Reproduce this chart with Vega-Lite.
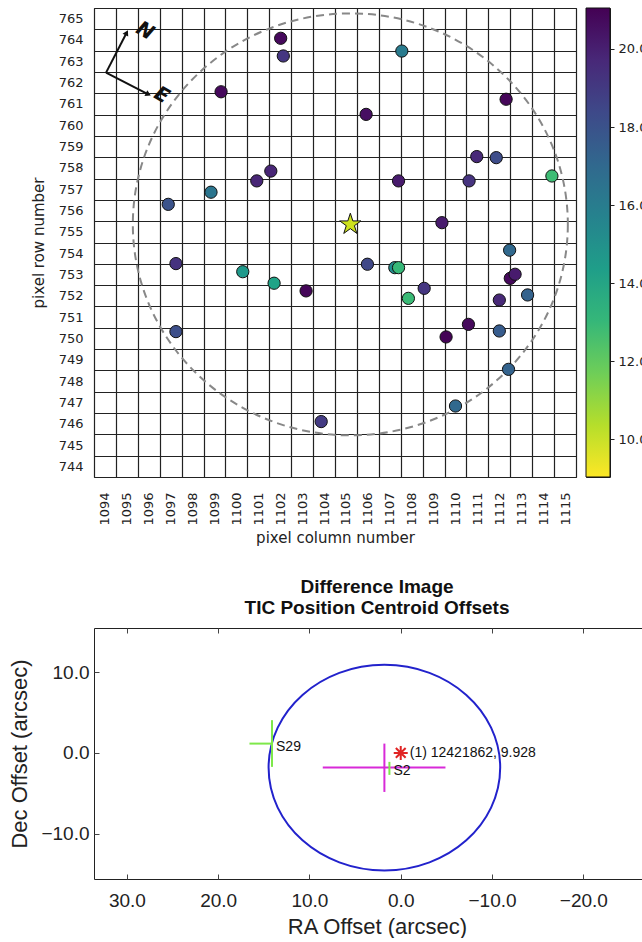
{
  "$schema": "https://vega.github.io/schema/vega-lite/v6.json",
  "padding": {"left": 8, "top": 7, "right": 0, "bottom": 0},
  "spacing": 31,
  "config": {
    "view": {"stroke": "#222", "strokeWidth": 1},
    "font": "DejaVu Sans"
  },
  "datasets": {
    "stars": [
      {"col": 1102.02, "row": 764.08, "mag": 20.8},
      {"col": 1102.14, "row": 763.25, "mag": 19.2},
      {"col": 1099.3, "row": 761.57, "mag": 20.8},
      {"col": 1101.57, "row": 757.85, "mag": 19.8},
      {"col": 1100.93, "row": 757.39, "mag": 19.8},
      {"col": 1098.84, "row": 756.86, "mag": 16.4},
      {"col": 1096.89, "row": 756.29, "mag": 18.0},
      {"col": 1097.24, "row": 753.51, "mag": 19.3},
      {"col": 1100.29, "row": 753.13, "mag": 14.6},
      {"col": 1101.72, "row": 752.59, "mag": 14.1},
      {"col": 1103.18, "row": 752.23, "mag": 20.9},
      {"col": 1097.24, "row": 750.32, "mag": 18.2},
      {"col": 1103.87, "row": 746.1, "mag": 19.0},
      {"col": 1107.55, "row": 763.48, "mag": 16.1},
      {"col": 1112.31, "row": 761.22, "mag": 20.9},
      {"col": 1105.92, "row": 760.51, "mag": 20.6},
      {"col": 1110.97, "row": 758.53, "mag": 19.7},
      {"col": 1111.86, "row": 758.48, "mag": 18.3},
      {"col": 1114.4, "row": 757.62, "mag": 12.8},
      {"col": 1107.4, "row": 757.39, "mag": 20.2},
      {"col": 1110.62, "row": 757.39, "mag": 19.3},
      {"col": 1109.38, "row": 755.43, "mag": 20.2},
      {"col": 1112.47, "row": 754.14, "mag": 17.0},
      {"col": 1105.98, "row": 753.48, "mag": 18.5},
      {"col": 1107.23, "row": 753.32, "mag": 15.2},
      {"col": 1107.4, "row": 753.32, "mag": 13.0},
      {"col": 1112.5, "row": 752.82, "mag": 20.8},
      {"col": 1112.72, "row": 753.01, "mag": 20.2},
      {"col": 1108.57, "row": 752.35, "mag": 19.2},
      {"col": 1107.85, "row": 751.88, "mag": 12.9},
      {"col": 1112.0, "row": 751.8, "mag": 19.7},
      {"col": 1113.29, "row": 752.04, "mag": 17.3},
      {"col": 1110.59, "row": 750.66, "mag": 20.8},
      {"col": 1109.57, "row": 750.07, "mag": 21.0},
      {"col": 1112.0, "row": 750.35, "mag": 17.6},
      {"col": 1112.42, "row": 748.55, "mag": 17.3},
      {"col": 1110.0, "row": 746.83, "mag": 17.0}
    ],
    "target": [{"col": 1105.2, "row": 755.35, "mag": 9.928}],
    "cbar": [{"lo": 9.03, "hi": 21.05}],
    "centroid": [{"ra": 1.79, "dec": -1.82, "ra_lo": 8.54, "ra_hi": -4.9, "dec_lo": -4.83, "dec_hi": 1.15}],
    "offsets": [
      {"label": "S29", "ra": 14.1, "dec": 1.15, "ra_lo": 16.57, "ra_hi": 14.1, "dec_lo": -1.73, "dec_hi": 4.05},
      {"label": "S2", "ra": 1.24, "dec": -1.9, "ra_lo": 1.24, "ra_hi": 1.24, "dec_lo": -2.72, "dec_hi": -1.11}
    ],
    "tic": [{"ra": 0, "dec": 0, "label": "(1) 12421862, 9.928"}]
  },
  "vconcat": [
    {
      "spacing": 8,
      "hconcat": [
        {
          "width": 482,
          "height": 469,
          "resolve": {"axis": {"x": "independent", "y": "independent"}},
          "layer": [
            {
              "data": {"name": "target"},
              "mark": {"type": "point", "opacity": 0},
              "encoding": {
                "x": {
                  "field": "col", "type": "quantitative",
                  "scale": {"domain": [1093.5, 1115.5], "nice": false, "zero": false},
                  "axis": {
                    "orient": "top", "title": null, "labels": false, "ticks": false, "domain": false, "tickCount": 100,
                    "grid": true, "gridColor": "#222", "gridWidth": 1.2, "gridOpacity": 1,
                    "values": [1093.5, 1094.5, 1095.5, 1096.5, 1097.5, 1098.5, 1099.5, 1100.5, 1101.5, 1102.5, 1103.5, 1104.5, 1105.5, 1106.5, 1107.5, 1108.5, 1109.5, 1110.5, 1111.5, 1112.5, 1113.5, 1114.5, 1115.5]
                  }
                },
                "y": {
                  "field": "row", "type": "quantitative",
                  "scale": {"domain": [743.5, 765.5], "nice": false, "zero": false},
                  "axis": {
                    "orient": "right", "title": null, "labels": false, "ticks": false, "domain": false, "tickCount": 100,
                    "grid": true, "gridColor": "#222", "gridWidth": 1.2, "gridOpacity": 1,
                    "values": [743.5, 744.5, 745.5, 746.5, 747.5, 748.5, 749.5, 750.5, 751.5, 752.5, 753.5, 754.5, 755.5, 756.5, 757.5, 758.5, 759.5, 760.5, 761.5, 762.5, 763.5, 764.5, 765.5]
                  }
                }
              }
            },
            {
              "data": {"name": "target"},
              "mark": {"type": "point", "filled": false, "stroke": "#888", "strokeWidth": 2, "strokeDash": [8, 5], "size": 189225, "opacity": 1, "shape": "M1,0C1,0.5357,0.5523,0.97,0,0.97C-0.5523,0.97,-1,0.5357,-1,0C-1,-0.5357,-0.5523,-0.97,0,-0.97C0.5523,-0.97,1,-0.5357,1,0Z"},
              "encoding": {
                "x": {"field": "col", "type": "quantitative", "axis": null},
                "y": {"field": "row", "type": "quantitative", "axis": null}
              }
            },
            {
              "data": {"name": "stars"},
              "mark": {"type": "circle", "size": 150, "stroke": "#111", "strokeWidth": 1, "opacity": 1},
              "encoding": {
                "x": {
                  "field": "col", "type": "quantitative",
                  "axis": {
                    "title": "pixel column number",
                    "values": [1094, 1095, 1096, 1097, 1098, 1099, 1100, 1101, 1102, 1103, 1104, 1105, 1106, 1107, 1108, 1109, 1110, 1111, 1112, 1113, 1114, 1115],
                    "tickCount": 100,
                    "format": "d",
                    "labelAngle": -90,
                    "labelOverlap": false,
                    "ticks": false,
                    "domain": false,
                    "grid": false,
                    "labelFont": "DejaVu Sans",
                    "labelFontSize": 13,
                    "labelColor": "#222",
                    "labelPadding": 15,
                    "titleFont": "DejaVu Sans",
                    "titleFontSize": 15,
                    "titleFontWeight": "normal",
                    "titleColor": "#222",
                    "titlePadding": 5
                  }
                },
                "y": {
                  "field": "row", "type": "quantitative",
                  "axis": {
                    "title": "pixel row number",
                    "values": [744, 745, 746, 747, 748, 749, 750, 751, 752, 753, 754, 755, 756, 757, 758, 759, 760, 761, 762, 763, 764, 765],
                    "tickCount": 100,
                    "format": "d",
                    "labelOverlap": false,
                    "ticks": false,
                    "domain": false,
                    "grid": false,
                    "labelFont": "DejaVu Sans",
                    "labelFontSize": 13,
                    "labelColor": "#222",
                    "labelPadding": 11,
                    "titleFont": "DejaVu Sans",
                    "titleFontSize": 15,
                    "titleFontWeight": "normal",
                    "titleColor": "#222",
                    "titlePadding": 12
                  }
                },
                "color": {
                  "field": "mag", "type": "quantitative",
                  "scale": {"scheme": "viridis", "reverse": true, "domain": [9.03, 21.05]},
                  "legend": null
                }
              }
            },
            {
              "data": {"name": "target"},
              "mark": {"type": "point", "shape": "M0,-1L0.2245,-0.309L0.951,-0.309L0.363,0.118L0.588,0.809L0,0.382L-0.588,0.809L-0.363,0.118L-0.951,-0.309L-0.2245,-0.309Z", "filled": true, "size": 500, "stroke": "#111", "strokeWidth": 1, "opacity": 1},
              "encoding": {
                "x": {"field": "col", "type": "quantitative", "axis": null},
                "y": {"field": "row", "type": "quantitative", "axis": null},
                "color": {"field": "mag", "type": "quantitative", "legend": null}
              }
            },
            {
              "data": {"values": [{}]},
              "mark": {"type": "rule", "color": "#111", "strokeWidth": 2},
              "encoding": {
                "x": {"datum": 1094.05, "type": "quantitative", "axis": null},
                "y": {"datum": 762.47, "type": "quantitative", "axis": null},
                "x2": {"datum": 1094.99},
                "y2": {"datum": 764.34}
              }
            },
            {
              "data": {"values": [{}]},
              "mark": {"type": "rule", "color": "#111", "strokeWidth": 2},
              "encoding": {
                "x": {"datum": 1094.05, "type": "quantitative", "axis": null},
                "y": {"datum": 762.47, "type": "quantitative", "axis": null},
                "x2": {"datum": 1095.98},
                "y2": {"datum": 761.45}
              }
            },
            {
              "data": {"values": [{}]},
              "mark": {"type": "point", "shape": "triangle-up", "filled": true, "color": "#111", "size": 40, "angle": 27, "opacity": 1},
              "encoding": {
                "x": {"datum": 1094.99, "type": "quantitative", "axis": null},
                "y": {"datum": 764.34, "type": "quantitative", "axis": null}
              }
            },
            {
              "data": {"values": [{}]},
              "mark": {"type": "point", "shape": "triangle-up", "filled": true, "color": "#111", "size": 40, "angle": 117, "opacity": 1},
              "encoding": {
                "x": {"datum": 1095.98, "type": "quantitative", "axis": null},
                "y": {"datum": 761.45, "type": "quantitative", "axis": null}
              }
            },
            {
              "data": {"values": [{}]},
              "mark": {"type": "text", "text": "N", "font": "DejaVu Sans", "fontSize": 20, "fontWeight": "bold", "fontStyle": "italic", "angle": 30, "color": "#111", "align": "center", "baseline": "middle"},
              "encoding": {
                "x": {"datum": 1095.83, "type": "quantitative", "axis": null},
                "y": {"datum": 764.42, "type": "quantitative", "axis": null}
              }
            },
            {
              "data": {"values": [{}]},
              "mark": {"type": "text", "text": "E", "font": "DejaVu Sans", "fontSize": 20, "fontWeight": "bold", "fontStyle": "italic", "angle": 30, "color": "#111", "align": "center", "baseline": "middle"},
              "encoding": {
                "x": {"datum": 1096.59, "type": "quantitative", "axis": null},
                "y": {"datum": 761.41, "type": "quantitative", "axis": null}
              }
            }
          ]
        },
        {
          "width": 24,
          "height": 469,
          "data": {"name": "cbar"},
          "mark": {
            "type": "rect",
            "stroke": "#111",
            "strokeWidth": 1,
            "fill": {
              "gradient": "linear",
              "x1": 0, "y1": 1, "x2": 0, "y2": 0,
              "stops": [
                {"offset": 0, "color": "#fde725"},
                {"offset": 0.111, "color": "#b5de2b"},
                {"offset": 0.222, "color": "#6ece58"},
                {"offset": 0.333, "color": "#35b779"},
                {"offset": 0.444, "color": "#1f9e89"},
                {"offset": 0.556, "color": "#26828e"},
                {"offset": 0.667, "color": "#31688e"},
                {"offset": 0.778, "color": "#3e4989"},
                {"offset": 0.889, "color": "#482878"},
                {"offset": 1, "color": "#440154"}
              ]
            }
          },
          "encoding": {
            "x": {"datum": 0, "type": "quantitative", "scale": {"domain": [0, 1], "nice": false, "zero": false}, "axis": null},
            "x2": {"datum": 1},
            "y": {
              "field": "lo", "type": "quantitative",
              "scale": {"domain": [9.03, 21.05], "nice": false, "zero": false},
              "axis": {
                "orient": "right",
                "title": "TESS mag",
                "values": [10, 12, 14, 16, 18, 20],
                "tickCount": 100,
                "grid": false,
                "domain": false,
                "tickSize": 4,
                "tickColor": "#222",
                "labelFont": "DejaVu Sans",
                "labelFontSize": 13,
                "labelColor": "#222",
                "labelPadding": 4,
                "titleFont": "DejaVu Sans",
                "titleFontSize": 15,
                "titleFontWeight": "normal",
                "titleColor": "#222",
                "titlePadding": 10
              }
            },
            "y2": {"field": "hi"}
          }
        }
      ]
    },
    {
      "width": 566,
      "height": 251,
      "title": {
        "text": ["Difference Image", "TIC Position Centroid Offsets"],
        "font": "Liberation Sans",
        "fontSize": 19,
        "fontWeight": "bold",
        "anchor": "middle",
        "color": "#111",
        "offset": 10
      },
      "resolve": {"axis": {"x": "independent", "y": "independent"}},
      "layer": [
        {
          "data": {"name": "centroid"},
          "mark": {"type": "point", "filled": false, "stroke": "#2222cc", "strokeWidth": 2, "size": 53640, "opacity": 1, "shape": "M1,0C1,0.4904,0.5523,0.888,0,0.888C-0.5523,0.888,-1,0.4904,-1,0C-1,-0.4904,-0.5523,-0.888,0,-0.888C0.5523,-0.888,1,-0.4904,1,0Z"},
          "encoding": {
            "x": {
              "field": "ra", "type": "quantitative",
              "scale": {"domain": [33.6, -28.4], "nice": false, "zero": false},
              "axis": {
                "title": "RA Offset (arcsec)",
                "values": [30, 20, 10, 0, -10, -20],
                "tickCount": 100,
                "grid": false,
                "domain": false,
                "tickSize": -5,
                "tickColor": "#444",
                "labelFlush": false,
                "labelFont": "Liberation Sans",
                "labelFontSize": 19,
                "labelColor": "#222",
                "labelPadding": 17,
                "titleFont": "Liberation Sans",
                "titleFontSize": 22,
                "titleFontWeight": "normal",
                "titleColor": "#222",
                "titlePadding": 6
              }
            },
            "y": {
              "field": "dec", "type": "quantitative",
              "scale": {"domain": [-15.6, 15.45], "nice": false, "zero": false},
              "axis": {
                "title": "Dec Offset (arcsec)",
                "values": [10, 0, -10],
                "tickCount": 100,
                "grid": false,
                "domain": false,
                "tickSize": -5,
                "tickColor": "#444",
                "labelFlush": false,
                "labelFont": "Liberation Sans",
                "labelFontSize": 19,
                "labelColor": "#222",
                "labelPadding": 10,
                "titleFont": "Liberation Sans",
                "titleFontSize": 22,
                "titleFontWeight": "normal",
                "titleColor": "#222",
                "titlePadding": 9
              }
            }
          }
        },
        {
          "data": {"name": "centroid"},
          "mark": {"type": "point", "opacity": 0},
          "encoding": {
            "x": {"field": "ra", "type": "quantitative", "axis": {"orient": "top", "title": null, "labels": false, "values": [30, 20, 10, 0, -10, -20], "tickCount": 100, "grid": false, "domain": false, "tickSize": -5, "tickColor": "#444"}},
            "y": {"field": "dec", "type": "quantitative", "axis": {"orient": "right", "title": null, "labels": false, "values": [10, 0, -10], "tickCount": 100, "grid": false, "domain": false, "tickSize": -5, "tickColor": "#444"}}
          }
        },
        {
          "data": {"name": "centroid"},
          "mark": {"type": "rule", "color": "#d82ad8", "strokeWidth": 2},
          "encoding": {
            "x": {"field": "ra_lo", "type": "quantitative", "axis": null},
            "x2": {"field": "ra_hi"},
            "y": {"field": "dec", "type": "quantitative", "axis": null}
          }
        },
        {
          "data": {"name": "centroid"},
          "mark": {"type": "rule", "color": "#d82ad8", "strokeWidth": 2},
          "encoding": {
            "x": {"field": "ra", "type": "quantitative", "axis": null},
            "y": {"field": "dec_lo", "type": "quantitative", "axis": null},
            "y2": {"field": "dec_hi"}
          }
        },
        {
          "data": {"name": "offsets"},
          "mark": {"type": "rule", "color": "#7ee84a", "strokeWidth": 2},
          "encoding": {
            "x": {"field": "ra_lo", "type": "quantitative", "axis": null},
            "x2": {"field": "ra_hi"},
            "y": {"field": "dec", "type": "quantitative", "axis": null}
          }
        },
        {
          "data": {"name": "offsets"},
          "mark": {"type": "rule", "color": "#7ee84a", "strokeWidth": 2},
          "encoding": {
            "x": {"field": "ra", "type": "quantitative", "axis": null},
            "y": {"field": "dec_lo", "type": "quantitative", "axis": null},
            "y2": {"field": "dec_hi"}
          }
        },
        {
          "data": {"name": "offsets"},
          "mark": {"type": "text", "align": "left", "baseline": "middle", "dx": 4, "dy": 3, "font": "Liberation Sans", "fontSize": 14, "color": "#111"},
          "encoding": {
            "x": {"field": "ra", "type": "quantitative", "axis": null},
            "y": {"field": "dec", "type": "quantitative", "axis": null},
            "text": {"field": "label"}
          }
        },
        {
          "data": {"name": "tic"},
          "mark": {"type": "point", "filled": false, "stroke": "#e02424", "strokeWidth": 2, "size": 196, "opacity": 1, "shape": "M-1,0L1,0M0,-1L0,1M-0.7,-0.7L0.7,0.7M-0.7,0.7L0.7,-0.7"},
          "encoding": {
            "x": {"field": "ra", "type": "quantitative", "axis": null},
            "y": {"field": "dec", "type": "quantitative", "axis": null}
          }
        },
        {
          "data": {"name": "tic"},
          "mark": {"type": "text", "align": "left", "baseline": "middle", "dx": 9, "font": "Liberation Sans", "fontSize": 14, "color": "#111"},
          "encoding": {
            "x": {"field": "ra", "type": "quantitative", "axis": null},
            "y": {"field": "dec", "type": "quantitative", "axis": null},
            "text": {"field": "label"}
          }
        }
      ]
    }
  ]
}
